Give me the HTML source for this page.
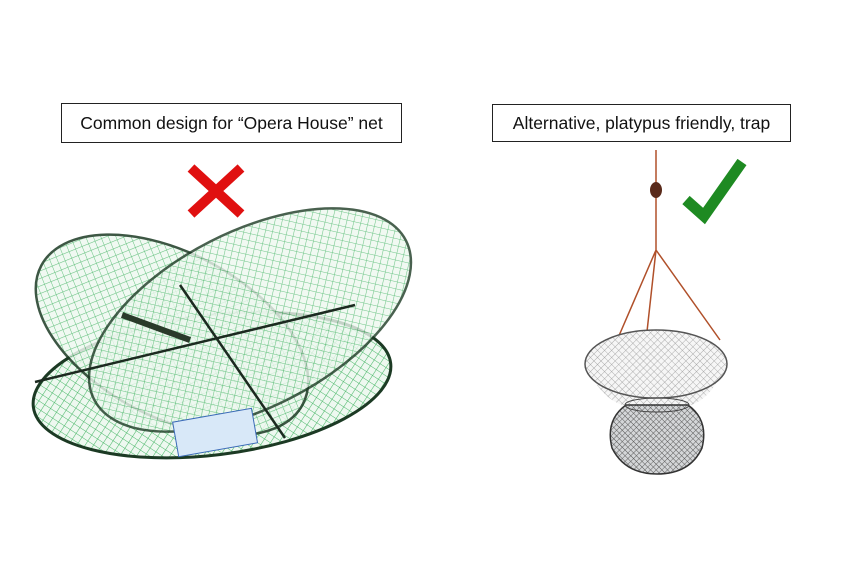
<!DOCTYPE html>
<html><head><meta charset="utf-8"><style>
html,body{margin:0;padding:0;background:#fff;}
body{width:862px;height:575px;position:relative;overflow:hidden;font-family:"Liberation Sans",sans-serif;}
.box{position:absolute;border:1px solid #222;background:#fff;font-size:17.5px;color:#111;display:flex;align-items:center;justify-content:center;box-sizing:border-box;white-space:nowrap;}
</style></head><body>
<div class="box" style="left:61px;top:103px;width:341px;height:40px;">Common design for “Opera House” net</div>
<div class="box" style="left:492px;top:104px;width:299px;height:38px;">Alternative, platypus friendly, trap</div>
<svg width="862" height="575" style="position:absolute;left:0;top:0">
<defs>
<pattern id="mg" width="7" height="7" patternUnits="userSpaceOnUse" patternTransform="rotate(40)">
<rect width="7" height="7" fill="#eef8f0"/>
<path d="M0 0H7M0 0V7" stroke="#4bb86a" stroke-width="1.1"/>
</pattern>
<pattern id="mb" width="5" height="5" patternUnits="userSpaceOnUse" patternTransform="rotate(45)">
<rect width="5" height="5" fill="#f6f6f6"/>
<path d="M0 0H5M0 0V5" stroke="#9a9a9a" stroke-width="0.8"/>
</pattern>
<pattern id="md" width="4" height="4" patternUnits="userSpaceOnUse" patternTransform="rotate(45)">
<rect width="4" height="4" fill="#d4d6d8"/>
<path d="M0 0H4M0 0V4" stroke="#555" stroke-width="0.9"/>
</pattern>
</defs>
<path d="M191 168 L241 214 M241 168 L191 214" stroke="#e01010" stroke-width="10"/>
<path d="M686 200 L704 216 L742 162" stroke="#1e8a22" stroke-width="11" fill="none"/>
<ellipse cx="212" cy="385" rx="180" ry="70" transform="rotate(-7 212 385)" fill="url(#mg)" stroke="#1c3a24" stroke-width="3"/>
<ellipse cx="172" cy="335" rx="148" ry="82" transform="rotate(28 172 335)" fill="url(#mg)" stroke="#1c3a24" stroke-width="2.5" opacity="0.85"/>
<ellipse cx="250" cy="320" rx="175" ry="88" transform="rotate(-27 250 320)" fill="url(#mg)" stroke="#1c3a24" stroke-width="2.5" opacity="0.8"/>
<path d="M35 382 L355 305 M180 285 L285 438" stroke="#1c2a20" stroke-width="2.5"/>
<path d="M122 315 L190 340" stroke="#2a3a2a" stroke-width="6"/>
<rect x="175" y="415" width="80" height="35" fill="#d8e8f8" stroke="#3a6ab8" transform="rotate(-10 215 432)"/>
<path d="M656 150 L656 250 M656 250 L618 338 M656 250 L720 340 M656 250 L640 395" stroke="#b0502a" stroke-width="1.5" fill="none"/>
<ellipse cx="656" cy="190" rx="6" ry="8" fill="#5a2a1a"/>
<path d="M585 362 Q600 400 626 406 L688 406 Q712 400 727 362 Z" fill="url(#mb)"/>
<path d="M626 405 Q605 420 612 448 Q625 474 657 474 Q690 474 702 448 Q709 420 688 405 Z" fill="url(#md)" stroke="#333" stroke-width="1.5"/>
<ellipse cx="656" cy="364" rx="71" ry="34" fill="url(#mb)" stroke="#555" stroke-width="1.5"/>
<ellipse cx="657" cy="405" rx="32" ry="7" fill="none" stroke="#444"/>
</svg>
</body></html>
